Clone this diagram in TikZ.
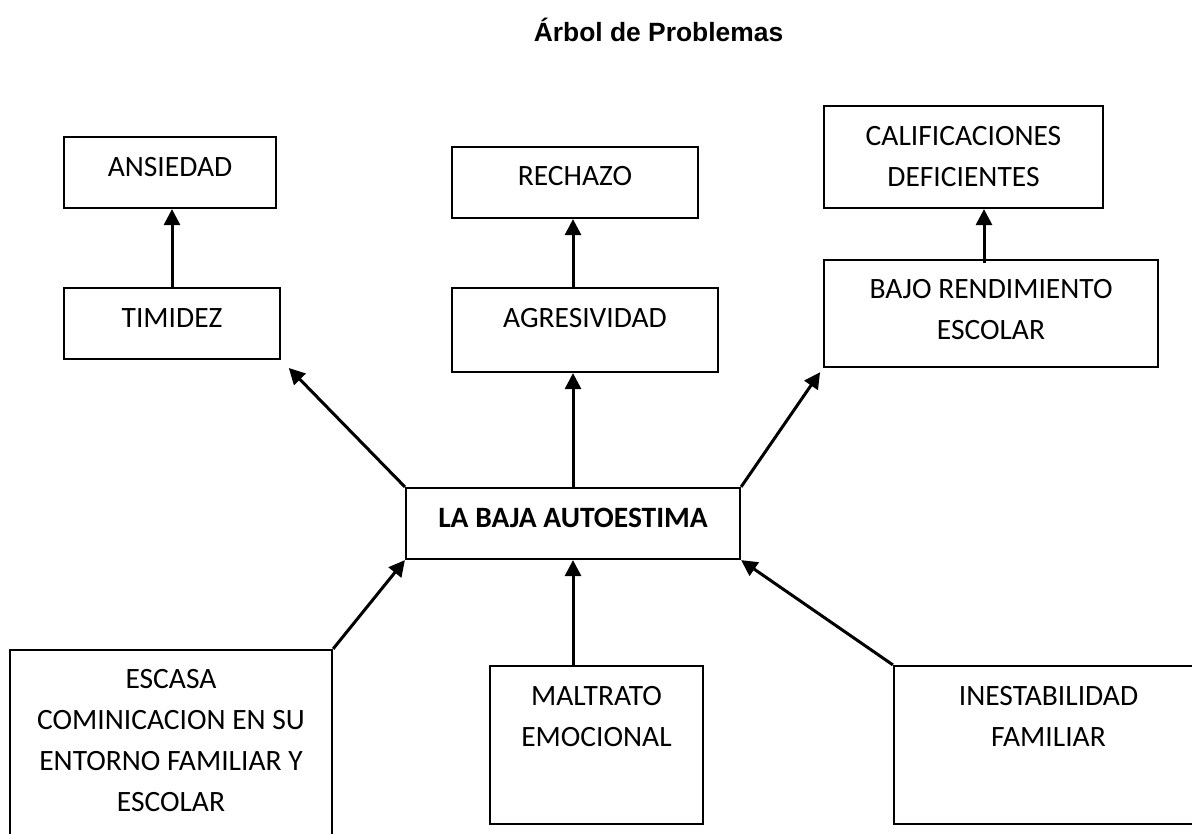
\documentclass[tikz,border=0pt]{standalone}
\usepackage{fontspec}
\setmainfont{Carlito}
\newfontfamily\titlefont{Liberation Sans}
\usetikzlibrary{arrows.meta}

\tikzset{
  caja/.style={draw, line width=2.2pt, inner sep=0pt},
  texto/.style={align=center, inner sep=0pt, font=\fontsize{29.5}{41}\selectfont},
  flecha/.style={line width=3pt, -{Triangle[length=16pt,width=16pt]}}
}

\begin{document}
\begin{tikzpicture}[x=1pt,y=-1pt]
\useasboundingbox (0,0) rectangle (1192,834);
\node[font=\titlefont\fontsize{26.4}{30}\bfseries\selectfont, anchor=base] (titulo) at (658.5,42) {Árbol de Problemas};
% efectos
\node[caja, minimum width=212, minimum height=71] (ansiedad) at (170,172.5) {};
\node[caja, minimum width=216, minimum height=71] (timidez) at (172,323.5) {};
\node[caja, minimum width=246, minimum height=71] (rechazo) at (575,182.5) {};
\node[caja, minimum width=266, minimum height=84] (agresividad) at (585,330) {};
\node[caja, minimum width=279, minimum height=102] (calificaciones) at (963.5,157) {};
\node[caja, minimum width=334, minimum height=107] (bajo) at (991,313.5) {};
% problema central
\node[caja, minimum width=334, minimum height=71] (centro) at (573,523.5) {};
% causas
\node[caja, minimum width=322, minimum height=200] (escasa) at (171,750) {};
\node[caja, minimum width=213, minimum height=158] (maltrato) at (596.5,745) {};
\node[caja, minimum width=309, minimum height=158] (inestabilidad) at (1048.5,745) {};
% textos
\node[texto] (t-ansiedad) at (170,167) {ANSIEDAD};
\node[texto] (t-timidez) at (172,318) {TIMIDEZ};
\node[texto] (t-rechazo) at (575,176) {RECHAZO};
\node[texto] (t-agresividad) at (585,318) {AGRESIVIDAD};
\node[texto] (t-calificaciones) at (963.5,156.5) {CALIFICACIONES\\DEFICIENTES};
\node[texto] (t-bajo) at (991,310) {BAJO RENDIMIENTO\\ESCOLAR};
\node[texto, font=\fontsize{29.5}{41}\bfseries\selectfont] (t-centro) at (573,518) {LA BAJA AUTOESTIMA};
\node[texto] (t-maltrato) at (596.5,716.5) {MALTRATO\\EMOCIONAL};
\node[texto] (t-escasa) at (171,741) {ESCASA\\COMINICACION EN SU\\ENTORNO FAMILIAR Y\\ESCOLAR};
\node[texto] (t-inestabilidad) at (1048.5,716.5) {INESTABILIDAD\\FAMILIAR};
% flechas
\coordinate (bajo-top) at ([shift={(-7pt,-4pt)}]bajo.north);
\draw[flecha] (timidez.north) -- (timidez.north |- ansiedad.south);
\draw[flecha] (centro.north |- agresividad.north) -- (centro.north |- rechazo.south);
\draw[flecha] (bajo-top) -- (bajo-top |- calificaciones.south);
\draw[flecha] (centro.north) -- (centro.north |- agresividad.south);
\draw[flecha, shorten >=11pt] (centro.north west) -- (timidez.south east);
\draw[flecha, shorten >=5pt] (centro.north east) -- (bajo.south west);
\draw[flecha] (escasa.north east) -- (centro.south west);
\draw[flecha] (maltrato.north -| centro.south) -- (centro.south);
\draw[flecha] (inestabilidad.north west) -- (centro.south east);
\end{tikzpicture}
\end{document}
